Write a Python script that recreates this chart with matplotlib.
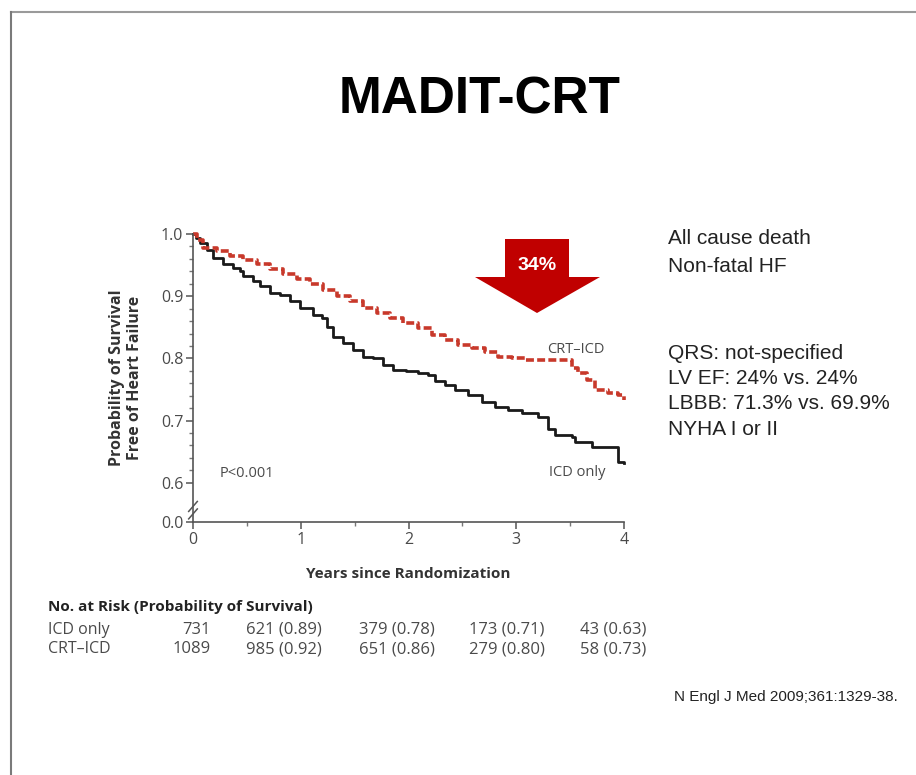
import numpy as np
import matplotlib.pyplot as plt
from matplotlib.patches import Polygon
from matplotlib.lines import Line2D

# Kaplan-Meier curves (years, survival free of HF)
icd_t = [0, 0.03, 0.065, 0.127, 0.189, 0.282, 0.374, 0.436, 0.467, 0.56, 0.622,
         0.715, 0.807, 0.90, 0.993, 1.117, 1.194, 1.241, 1.303, 1.395, 1.488,
         1.581, 1.674, 1.767, 1.86, 1.98, 2.091, 2.184, 2.246, 2.339, 2.431,
         2.555, 2.679, 2.803, 2.926, 3.05, 3.205, 3.298, 3.36, 3.514, 3.545,
         3.669, 3.70, 3.948, 4.0]
icd_s = [1.0, 0.993, 0.986, 0.975, 0.962, 0.951, 0.945, 0.940, 0.932, 0.924, 0.916,
         0.905, 0.902, 0.892, 0.881, 0.870, 0.865, 0.851, 0.835, 0.825, 0.814,
         0.803, 0.800, 0.790, 0.781, 0.779, 0.776, 0.773, 0.763, 0.757, 0.749,
         0.741, 0.730, 0.722, 0.717, 0.712, 0.706, 0.687, 0.677, 0.674, 0.666,
         0.666, 0.658, 0.633, 0.632]

crt_t = [0, 0.04, 0.096, 0.22, 0.343, 0.467, 0.591, 0.715, 0.838, 0.962, 1.086,
         1.209, 1.334, 1.457, 1.581, 1.705, 1.828, 1.952, 2.091, 2.215, 2.339,
         2.462, 2.586, 2.71, 2.833, 2.957, 3.081, 3.267, 3.483, 3.514, 3.576,
         3.653, 3.731, 3.855, 3.948, 4.0]
crt_s = [1.0, 0.990, 0.978, 0.972, 0.964, 0.959, 0.951, 0.943, 0.935, 0.927, 0.919,
         0.910, 0.900, 0.892, 0.881, 0.873, 0.865, 0.857, 0.849, 0.838, 0.830,
         0.822, 0.816, 0.811, 0.803, 0.800, 0.798, 0.798, 0.798, 0.784, 0.776,
         0.765, 0.749, 0.744, 0.741, 0.733]

risk_groups = ["ICD only", "CRT\u2013ICD"]
risk_counts = [["731", "621 (0.89)", "379 (0.78)", "173 (0.71)", "43 (0.63)"],
               ["1089", "985 (0.92)", "651 (0.86)", "279 (0.80)", "58 (0.73)"]]

side_notes_top = ["All cause death", "Non-fatal HF"]
side_notes = ["QRS: not-specified", "LV EF: 24% vs. 24%",
              "LBBB: 71.3% vs. 69.9%", "NYHA I or II"]

W, H = 916, 775
ZERO_POS = 0.537   # where the "0.0" tick sits below the axis break


def fx(x):
    return x / W


def fy(y):
    return 1 - y / H


fig = plt.figure(figsize=(9.16, 7.75), dpi=100)
fig.patch.set_facecolor("white")
cfont = "Open Sans"
grey = "#4a4a4a"

# slide frame
fig.add_artist(Line2D([fx(11), 1], [fy(12), fy(12)], color="#9a9a9a", lw=1.5))
fig.add_artist(Line2D([fx(11), fx(11)], [fy(12), 0], color="#7a7a7a", lw=1.5))

fig.text(fx(480), fy(100), "MADIT-CRT", ha="center", va="center",
         fontsize=37, fontweight="bold", family="Liberation Sans", color="black")

ax = fig.add_axes([fx(193), fy(522), fx(624) - fx(193), fy(234) - fy(522)])
ax.step(icd_t, icd_s, where="post", color="#1a1a1a", lw=2.0, clip_on=False)
ax.step(crt_t, crt_s, where="post", color="#c8392b", lw=2.6, ls=(0, (2.2, 0.9)),
        clip_on=False)

ax.set_xlim(0, 4)
ax.set_ylim(ZERO_POS, 1.0)
ax.set_xticks([0, 1, 2, 3, 4])
ax.set_xticks([0.5, 1.5, 2.5, 3.5], minor=True)
ax.set_yticks([ZERO_POS, 0.6, 0.7, 0.8, 0.9, 1.0])
ax.set_yticklabels(["0.0", "0.6", "0.7", "0.8", "0.9", "1.0"])
ax.set_yticks(np.arange(0.62, 1.0, 0.02), minor=True)
for s in ["top", "right"]:
    ax.spines[s].set_visible(False)
for s in ["left", "bottom"]:
    ax.spines[s].set_color("#555555")
    ax.spines[s].set_linewidth(1.2)
ax.tick_params(which="major", length=5, width=1.1, color="#555555",
               labelsize=11.5, labelcolor=grey, pad=2)
ax.tick_params(which="minor", length=3, width=1.0, color="#777777")
for lab in ax.get_xticklabels() + ax.get_yticklabels():
    lab.set_family(cfont)

# axis break marks
for dy in (-0.006, 0.006):
    ax.plot([-0.04, 0.04], [0.556 + dy - 0.008, 0.556 + dy + 0.008],
            color="#555555", lw=1.1, clip_on=False, transform=ax.transData)

ax.set_xlabel("Years since Randomization", fontsize=11, fontweight="bold",
              family=cfont, color="#333333", labelpad=14)
fig.text(fx(126), fy(378), "Probability of Survival\nFree of Heart Failure",
         rotation=90, ha="center", va="center", fontsize=11.5, fontweight="bold",
         family=cfont, color="#333333", linespacing=1.15)

ax.text(0.25, 0.615, "P<0.001", fontsize=10.5, family=cfont, color=grey,
        ha="left", va="center")
ax.text(3.55, 0.815, "CRT\u2013ICD", fontsize=10.5, family=cfont, color=grey,
        ha="center", va="center")
ax.text(3.57, 0.617, "ICD only", fontsize=10.5, family=cfont, color=grey,
        ha="center", va="center")

# big red arrow
arrow_px = [(505, 239), (569, 239), (569, 277), (600, 277), (537, 313),
            (475, 277), (505, 277)]
fig.add_artist(Polygon([(fx(x), fy(y)) for x, y in arrow_px], closed=True,
                       facecolor="#c00000", edgecolor="none",
                       transform=fig.transFigure))
fig.text(fx(537), fy(266), "34%", ha="center", va="center", fontsize=14,
         fontweight="bold", family="Liberation Sans", color="white")

# notes on the right
for i, t in enumerate(side_notes_top):
    fig.text(fx(668), fy(238 + 28 * i), t, ha="left", va="center",
             fontsize=15, family="Liberation Sans", color="#222222")
for i, t in enumerate(side_notes):
    fig.text(fx(668), fy(353 + 25.5 * i), t, ha="left", va="center",
             fontsize=15, family="Liberation Sans", color="#222222")

# number at risk table
fig.text(fx(48), fy(607), "No. at Risk (Probability of Survival)", ha="left",
         va="center", fontsize=11, fontweight="bold", family=cfont, color="#222222")
col_x = [246, 359, 469, 580]
for r, (grp, counts) in enumerate(zip(risk_groups, risk_counts)):
    y = fy(630 + 19 * r)
    fig.text(fx(48), y, grp, ha="left", va="center", fontsize=11.5,
             family=cfont, color=grey)
    fig.text(fx(211), y, counts[0], ha="right", va="center", fontsize=12,
             family=cfont, color=grey)
    for cx, c in zip(col_x, counts[1:]):
        fig.text(fx(cx), y, c, ha="left", va="center", fontsize=12,
                 family=cfont, color=grey)

fig.text(fx(898), fy(697), "N Engl J Med 2009;361:1329-38.", ha="right",
         va="center", fontsize=11, family="Liberation Sans", color="#222222")

fig.savefig("out.png", dpi=100, facecolor="white")
